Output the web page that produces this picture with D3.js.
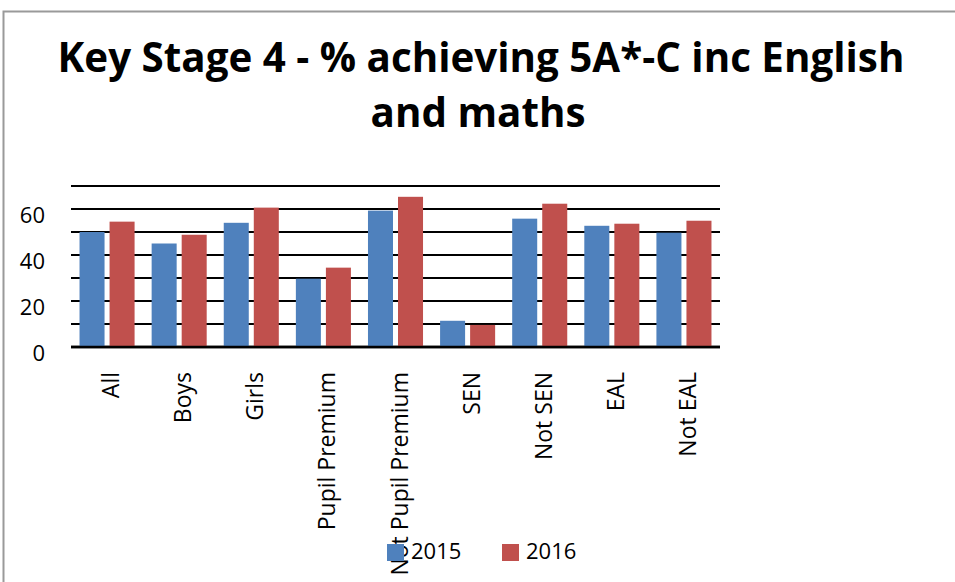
<!DOCTYPE html>
<html>
<head>
<meta charset="utf-8">
<script src="https://cdn.jsdelivr.net/npm/d3@7"></script>
<style>
  body { margin: 0; background: #fff; }
  svg { display: block; font-family: "Open Sans", sans-serif; }
</style>
</head>
<body>
<div id="chartArea"></div>
<script>
// data
var categories = ["All", "Boys", "Girls", "Pupil Premium", "Not Pupil Premium", "SEN", "Not SEN", "EAL", "Not EAL"];
var series = ["2015", "2016"];
var values2015 = [50, 45, 54, 29.7, 59.3, 11.4, 55.8, 52.7, 49.7];
var values2016 = [54.5, 48.8, 60.6, 34.5, 65.3, 9.6, 62.3, 53.6, 54.9];
var colors = ["#4f81bd", "#c0504d"];
var gridTicks = [0, 10, 20, 30, 40, 50, 60, 70];
var labelTicks = [0, 20, 40, 60];
var titleLines = ["Key Stage 4 - % achieving 5A*-C inc English", "and maths"];

var W = 955, H = 582;
var plot = {left: 71, right: 720, top: 186, bottom: 347};

var svg = d3.select("#chartArea").append("svg")
    .attr("width", W)
    .attr("height", H);

// chart frame (only top and left edges show in the picture)
svg.append("path")
    .attr("d", "M3.5," + H + "V11.5H" + W)
    .attr("fill", "none")
    .attr("stroke", "#9a9a9a")
    .attr("stroke-width", 2);

// title, fitted to the reference width
var title = svg.append("g").attr("class", "title");
var t1 = title.append("text")
    .attr("x", 481).attr("y", 72)
    .attr("text-anchor", "middle")
    .attr("font-weight", "bold")
    .attr("font-size", 40)
    .text(titleLines[0]);
var len = t1.node().getComputedTextLength();
var fs = 40 * 847 / len;
t1.attr("font-size", fs);
title.append("text")
    .attr("x", 478).attr("y", 127)
    .attr("text-anchor", "middle")
    .attr("font-weight", "bold")
    .attr("font-size", fs)
    .text(titleLines[1]);

// scales
var x0 = d3.scaleBand().domain(categories).range([plot.left, plot.right]).padding(0);
var x1 = d3.scaleBand().domain(series).range([0, x0.bandwidth()])
    .paddingInner(0.167).paddingOuter(0.284);
var y = d3.scaleLinear().domain([0, 70]).range([plot.bottom, plot.top]);

// gridlines
svg.append("g").attr("class", "grid")
    .selectAll("line")
    .data(gridTicks)
    .enter().append("line")
    .attr("x1", plot.left).attr("x2", plot.right)
    .attr("y1", d => y(d)).attr("y2", d => y(d))
    .attr("stroke", "#000")
    .attr("stroke-width", d => d === 0 ? 2.5 : 2);

// y labels (sit a little below their gridlines, as in the picture)
svg.append("g").attr("class", "ylabels")
    .selectAll("text")
    .data(labelTicks)
    .enter().append("text")
    .attr("x", 45)
    .attr("y", d => y(d) + 6)
    .attr("dy", "0.35em")
    .attr("text-anchor", "end")
    .attr("font-size", 22)
    .attr("fill", "#000")
    .text(d => d);

// bars
var rows = categories.map((c, i) => ({cat: c, vals: [values2015[i], values2016[i]]}));
var groups = svg.append("g").attr("class", "bars")
    .selectAll("g")
    .data(rows)
    .enter().append("g")
    .attr("transform", d => "translate(" + x0(d.cat) + ",0)");

groups.selectAll("rect")
    .data(d => d.vals.map((v, j) => ({s: series[j], v: v, j: j})))
    .enter().append("rect")
    .attr("x", d => x1(d.s))
    .attr("width", x1.bandwidth())
    .attr("y", d => y(d.v))
    .attr("height", d => y(0) - y(d.v))
    .attr("fill", d => colors[d.j]);

// baseline on top of the bars
svg.append("line")
    .attr("x1", plot.left).attr("x2", plot.right)
    .attr("y1", y(0)).attr("y2", y(0))
    .attr("stroke", "#000").attr("stroke-width", 2.5);

// category labels, rotated
svg.append("g").attr("class", "xlabels")
    .selectAll("text")
    .data(categories)
    .enter().append("text")
    .attr("transform", d => "translate(" + (x0(d) + x0.bandwidth() / 2 + 12) + ",372) rotate(-90)")
    .attr("text-anchor", "end")
    .attr("font-size", 23)
    .attr("fill", "#000")
    .text(d => d);

// legend
var legend = svg.append("g").attr("class", "legend");
var legX = [387, 502];
series.forEach(function (s, i) {
    legend.append("rect")
        .attr("x", legX[i]).attr("y", 544)
        .attr("width", 17).attr("height", 17)
        .attr("fill", colors[i]);
    legend.append("text")
        .attr("x", legX[i] + 24).attr("y", 559)
        .attr("font-size", 22)
        .attr("fill", "#000")
        .text(s);
});
</script>
</body>
</html>
